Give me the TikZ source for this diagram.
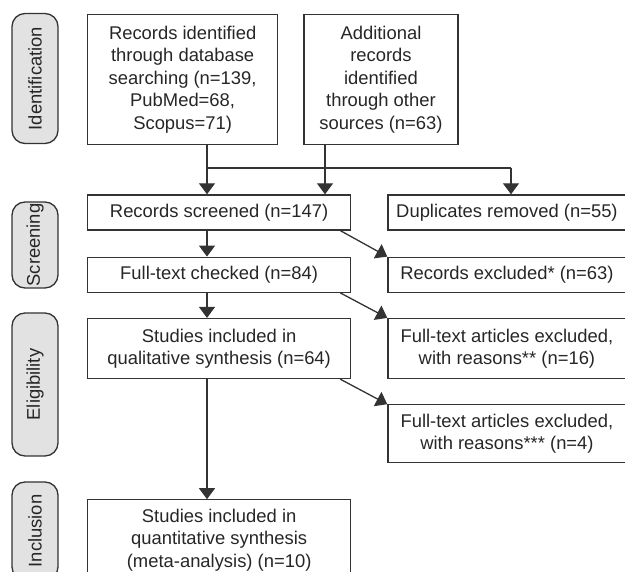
\documentclass[tikz,border=0pt]{standalone}
\usepackage{fontspec}
\setmainfont{Liberation Sans}
\usepackage{tikz}
\usetikzlibrary{arrows.meta,positioning}
\definecolor{linegray}{HTML}{333333}
\definecolor{phasefill}{HTML}{E2E2E2}
\definecolor{textgray}{HTML}{262626}

\begin{document}
\begin{tikzpicture}[
  x=1pt, y=-1pt,
  font=\fontsize{18.4}{22.5}\selectfont,
  node distance=26pt and 36pt,
  box/.style={draw=linegray, line width=1.3pt, align=center, text=textgray, minimum height=35pt, minimum width=263pt, inner sep=2pt},
  sidebox/.style={box, minimum width=238pt},
  phase/.style={draw=linegray, line width=1.3pt, rounded corners=13pt, fill=phasefill, text=textgray, rotate=90, minimum height=46pt, inner sep=0pt},
  arrow/.style={-{Triangle[width=16pt,length=11pt]}, line width=1.3pt, draw=linegray},
  link/.style={line width=1.3pt, draw=linegray}
]
\clip (0,0) rectangle (625,572);

\node[phase, minimum width=130pt] (idlab) at (35,78.5) {Identification};
\node[phase, minimum width=86pt] (scrlab) at (35,245) {Screening};
\node[phase, minimum width=143pt] (elilab) at (35,384.5) {Eligibility};
\node[phase, minimum width=98pt] (inclab) at (35,531) {Inclusion};

\node[box, minimum width=190pt, minimum height=130pt, anchor=north west] (ident) at (87,14) {Records identified\\through database\\searching (n=139,\\PubMed=68,\\Scopus=71)};
\node[box, minimum width=154pt, minimum height=130pt, right=25pt of ident] (other) {Additional\\records\\identified\\through other\\sources (n=63)};

\node[box, below=49pt of ident.south west, anchor=north west] (screened) {Records screened (n=147)};
\node[box, below=of screened] (fulltext) {Full-text checked (n=84)};
\node[box, minimum height=60pt, below=25pt of fulltext] (qual) {Studies included in\\qualitative synthesis (n=64)};
\node[box, minimum height=80pt, below=120pt of qual] (quant) {Studies included in\\quantitative synthesis\\(meta-analysis) (n=10)};

\node[sidebox, right=of screened] (dup) {Duplicates removed (n=55)};
\node[sidebox, right=of fulltext] (excl) {Records excluded* (n=63)};
\node[sidebox, minimum height=60pt, right=of qual] (exclft) {Full-text articles excluded,\\with reasons** (n=16)};
\node[sidebox, minimum height=58pt, below=25pt of exclft] (exclfttwo) {Full-text articles excluded,\\with reasons*** (n=4)};

\coordinate (join) at (207,168);
\coordinate (dupin) at (511,168);
\coordinate (otherout) at (325,144);

\draw[arrow] (ident.south -| join) -- (screened.north -| join);
\draw[arrow] (otherout) -- (screened.north -| otherout);
\draw[link] (join) -- (dupin);
\draw[arrow] (dupin) -- (dup.north -| dupin);

\draw[arrow] (screened.south -| join) -- (fulltext.north -| join);
\draw[arrow] (fulltext.south -| join) -- (qual.north -| join);
\draw[arrow] (qual.south -| join) -- (quant.north -| join);

\draw[arrow] ([xshift=-11pt]screened.south east) -- (excl.north west);
\draw[arrow] ([xshift=-11pt]fulltext.south east) -- (exclft.north west);
\draw[arrow] ([xshift=-11pt]qual.south east) -- (exclfttwo.north west);
\end{tikzpicture}
\end{document}
